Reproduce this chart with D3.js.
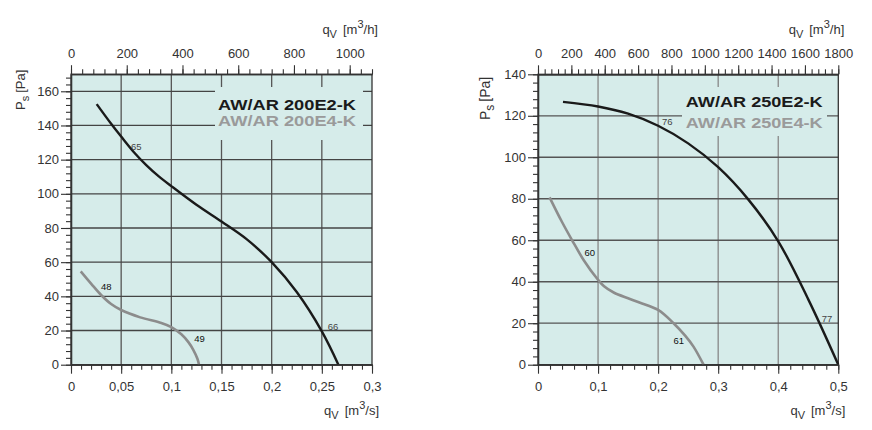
<!DOCTYPE html>
<html><head><meta charset="utf-8">
<script src="https://cdn.jsdelivr.net/npm/d3@7"></script>
<style>
body{margin:0;background:#fff;}
text{font-family:"Liberation Sans",Arial,Helvetica,sans-serif;}
</style></head>
<body><svg id="c" width="872" height="430"></svg>
<script>
// ---------- DATA ----------
// Left chart: AW/AR 200E2-K (black) and AW/AR 200E4-K (gray); x = qv [m3/s], y = Ps [Pa]
const leftModels = ["AW/AR 200E2-K", "AW/AR 200E4-K"];
const leftE2 = [[0.0256,152.5],[0.04,141],[0.05,133.5],[0.0625,124.5],[0.075,116.8],[0.0875,110.2],[0.1,104.5],[0.125,93.6],[0.15,83.8],[0.175,73.5],[0.2,60],[0.225,42.5],[0.25,19.5],[0.2665,0]];
const leftE4 = [[0.0097,54.6],[0.02,47.5],[0.03,40.8],[0.04,35.5],[0.05,32],[0.069,27.7],[0.09,24.4],[0.1,22],[0.11,17.8],[0.117,13.2],[0.122,8.6],[0.126,3.5],[0.1276,0]];
const leftPointLabels = [["65",0.0598,125.6],["66",0.2558,20.3],["48",0.0299,43.9],["49",0.1229,13.1]];
const leftXTicks = [0,0.05,0.1,0.15,0.2,0.25,0.3];
const leftYTicks = [0,20,40,60,80,100,120,140,160];
const leftTopTicks = [0,200,400,600,800,1000];

// Right chart: AW/AR 250E2-K (black) and AW/AR 250E4-K (gray)
const rightModels = ["AW/AR 250E2-K", "AW/AR 250E4-K"];
const rightE2 = [[0.0416,126.7],[0.1,124.5],[0.15,121],[0.2,115.2],[0.25,106.7],[0.3,95.2],[0.35,79.7],[0.4,59.5],[0.45,31.5],[0.5,0]];
const rightE4 = [[0.0193,80.7],[0.04,68.8],[0.0566,60.1],[0.0759,50.5],[0.0992,41.2],[0.11,37.8],[0.126,34.8],[0.15,32],[0.17,29.9],[0.2,26.4],[0.2257,20],[0.245,14],[0.2589,8.7],[0.2756,0]];
const rightPointLabels = [["76",0.2063,115.4],["77",0.4725,20.4],["60",0.0775,52.2],["61",0.2256,10]];
const rightXTicks = [0,0.1,0.2,0.3,0.4,0.5];
const rightYTicks = [0,20,40,60,80,100,120,140];
const rightTopTicks = [0,200,400,600,800,1000,1200,1400,1600,1800];

// ---------- DRAW ----------
const svg = d3.select("#c");
const BG = "#d6ecea";
const fmtComma = d => String(+d.toFixed(3)).replace(".", ",");

function range(a, b, s){ const r=[]; for(let v=a; v<=b+1e-9; v+=s) r.push(+v.toFixed(6)); return r; }

function chart(cfg){
  const g = svg.append("g");
  const x = d3.scaleLinear().domain([0, cfg.xMax]).range([cfg.x0, cfg.x1]);
  const y = d3.scaleLinear().domain([0, cfg.yMax]).range([cfg.y0, cfg.y1]);
  const xh = d3.scaleLinear().domain([0, cfg.xMax*3600]).range([cfg.x0, cfg.x1]);

  g.append("rect").attr("x",cfg.x0).attr("y",cfg.y1).attr("width",cfg.x1-cfg.x0).attr("height",cfg.y0-cfg.y1).attr("fill",BG);

  // grid
  const vx = cfg.xTicks.filter(v=>v>0 && v<cfg.xMax-1e-9);
  g.selectAll(null).data(vx).enter().append("line")
    .attr("x1",d=>x(d)).attr("x2",d=>x(d)).attr("y1",cfg.y0).attr("y2",cfg.y1)
    .attr("stroke",cfg.vColor).attr("stroke-width",1.3);
  const hy = cfg.yTicks.filter(v=>v>0 && v<cfg.yMax-1e-9);
  g.selectAll(null).data(hy).enter().append("line")
    .attr("y1",d=>y(d)).attr("y2",d=>y(d)).attr("x1",cfg.x0).attr("x2",cfg.x1)
    .attr("stroke",cfg.hColor).attr("stroke-width",1.3);

  // legend box (covers the grid)
  g.append("rect").attr("x",cfg.leg.bx).attr("y",cfg.leg.by).attr("width",cfg.leg.bw).attr("height",cfg.leg.bh).attr("fill",BG);
  g.append("text").attr("x",cfg.leg.tx).attr("y",cfg.leg.ty1).attr("font-size",15.5).attr("font-weight","bold")
    .attr("fill","#1a1a1a").attr("textLength",cfg.leg.tl).attr("lengthAdjust","spacingAndGlyphs").text(cfg.models[0]);
  g.append("text").attr("x",cfg.leg.tx).attr("y",cfg.leg.ty2).attr("font-size",15.5).attr("font-weight","bold")
    .attr("fill","#9a9a9a").attr("textLength",cfg.leg.tl).attr("lengthAdjust","spacingAndGlyphs").text(cfg.models[1]);

  // frame
  g.append("rect").attr("x",cfg.x0).attr("y",cfg.y1).attr("width",cfg.x1-cfg.x0).attr("height",cfg.y0-cfg.y1)
    .attr("fill","none").attr("stroke","#333").attr("stroke-width",1.3);

  // curves
  const line = d3.line().x(d=>x(d[0])).y(d=>y(d[1])).curve(d3.curveCatmullRom.alpha(0.5));
  g.append("path").datum(cfg.e4).attr("d",line).attr("fill","none").attr("stroke","#8c8c8c").attr("stroke-width",2.6);
  g.append("path").datum(cfg.e2).attr("d",line).attr("fill","none").attr("stroke","#1a1a1a").attr("stroke-width",2.4);

  // point labels
  g.selectAll(null).data(cfg.pl).enter().append("text")
    .attr("x",d=>x(d[1])).attr("y",d=>y(d[2])).attr("font-size",9.5)
    .attr("fill",(d,i)=> i<2 ? "#444" : "#111").text(d=>d[0]);

  // axes
  function styleAxis(sel){ sel.select(".domain").attr("stroke","#333").attr("stroke-width",1.3);
    sel.selectAll(".tick line").attr("stroke","#333").attr("stroke-width",1.1);
    sel.selectAll("text").attr("font-size",13).attr("fill","#333").attr("font-family","Liberation Sans, Arial, sans-serif"); }

  const bMinor = d3.axisBottom(x).tickValues(range(0,cfg.xMax,cfg.xMinor)).tickSize(5).tickFormat("").tickSizeOuter(0);
  const bMajor = d3.axisBottom(x).tickValues(cfg.xTicks).tickSize(9).tickPadding(8).tickFormat(fmtComma).tickSizeOuter(0);
  g.append("g").attr("transform",`translate(0,${cfg.y0})`).call(bMinor).call(styleAxis);
  g.append("g").attr("transform",`translate(0,${cfg.y0})`).call(bMajor).call(styleAxis);

  const lMinor = d3.axisLeft(y).tickValues(range(0,cfg.yMax,4)).tickSize(5).tickFormat("").tickSizeOuter(0);
  const lMajor = d3.axisLeft(y).tickValues(cfg.yTicks).tickSize(10).tickPadding(2).tickSizeOuter(0);
  g.append("g").attr("transform",`translate(${cfg.x0},0)`).call(lMinor).call(styleAxis);
  g.append("g").attr("transform",`translate(${cfg.x0},0)`).call(lMajor).call(styleAxis);

  const tMinor = d3.axisTop(xh).tickValues(range(0,cfg.xMax*3600,40)).tickSize(5).tickFormat("").tickSizeOuter(0);
  const tMajor = d3.axisTop(xh).tickValues(cfg.topTicks).tickSize(9).tickPadding(7).tickFormat(d3.format("d")).tickSizeOuter(0);
  g.append("g").attr("transform",`translate(0,${cfg.y1})`).call(tMinor).call(styleAxis);
  g.append("g").attr("transform",`translate(0,${cfg.y1})`).call(tMajor).call(styleAxis);

  // axis titles
  const ps = g.append("text").attr("transform",`translate(${cfg.psX},${cfg.psY}) rotate(-90)`).attr("font-size",cfg.psSize).attr("fill","#333");
  ps.append("tspan").text("P");
  ps.append("tspan").attr("dy",4).attr("font-size",cfg.psSize-2).text("s");
  ps.append("tspan").attr("dy",-4).attr("dx",3).text("[Pa]");

  function qTitle(xe, yb, unit){
    const t = g.append("text").attr("x",xe).attr("y",yb).attr("text-anchor","end").attr("font-size",13).attr("fill","#333");
    t.append("tspan").text("q");
    t.append("tspan").attr("dy",4).attr("font-size",11).text("V");
    t.append("tspan").attr("dy",-4).attr("dx",6).text("[m");
    t.append("tspan").attr("dy",-6).attr("font-size",11).text("3");
    t.append("tspan").attr("dy",6).text("/"+unit+"]");
  }
  qTitle(cfg.x1+7, 415, "s");
  qTitle(cfg.x1+6, 34, "h");
}

chart({x0:71,x1:372,y0:364.7,y1:74.2,xMax:0.3,yMax:170,xMinor:0.01,
  xTicks:leftXTicks,yTicks:leftYTicks,topTicks:leftTopTicks,
  vColor:"#555",hColor:"#444",e2:leftE2,e4:leftE4,pl:leftPointLabels,models:leftModels,
  leg:{bx:215,by:87,bw:148,bh:53,tx:218,ty1:109.5,ty2:126,tl:138},
  psX:25,psY:110,psSize:13});
chart({x0:538,x1:838.3,y0:364.7,y1:74.3,xMax:0.5,yMax:140,xMinor:0.02,
  xTicks:rightXTicks,yTicks:rightYTicks,topTicks:rightTopTicks,
  vColor:"#888",hColor:"#555",e2:rightE2,e4:rightE4,pl:rightPointLabels,models:rightModels,
  leg:{bx:682,by:87,bw:145,bh:49,tx:685.7,ty1:107,ty2:127.5,tl:137},
  psX:490,psY:120,psSize:14});
</script></body></html>
